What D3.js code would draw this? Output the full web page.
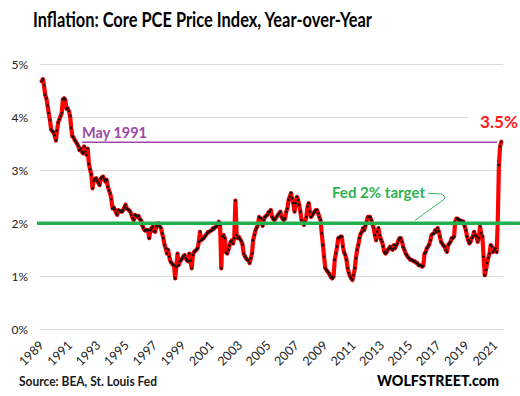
<!DOCTYPE html>
<html><head><meta charset="utf-8">
<script src="https://cdn.jsdelivr.net/npm/d3@7"></script>
<style>
html,body{margin:0;padding:0;background:#fff;}
svg{display:block;font-family:Lato,"Open Sans",sans-serif;}
</style></head>
<body>
<svg id="chart" width="520" height="396"></svg>
<script>
// ---------- DATA ----------
const startYear = 1989, startMonth = 0; // Jan 1989, monthly
const coreYoY = [
 4.68,4.72,4.60,4.42,4.36,4.22,4.08,3.95,3.77,3.74,3.72,3.66, // 1989
 3.56,3.75,3.90,3.96,4.02,4.08,4.34,4.36,4.33,4.16,4.17,4.12, // 1990
 4.03,3.80,3.64,3.62,3.57,3.54,3.50,3.46,3.38,3.41,3.35,3.32, // 1991
 3.45,3.35,3.29,3.41,3.12,3.02,2.92,2.66,2.80,2.83,2.85,2.80, // 1992
 2.76,2.72,2.84,2.87,2.88,2.83,2.79,2.82,2.69,2.62,2.56,2.45, // 1993
 2.28,2.30,2.26,2.20,2.16,2.25,2.24,2.22,2.22,2.25,2.30,2.35, // 1994
 2.28,2.26,2.25,2.22,2.16,2.10,2.06,2.16,2.14,2.12,2.14,2.08, // 1995
 2.06,1.97,1.92,1.87,1.86,1.88,1.87,1.72,1.87,1.91,1.94,1.85, // 1996
 1.84,1.94,1.96,2.00,1.94,1.91,1.81,1.72,1.59,1.53,1.43,1.50, // 1997
 1.37,1.28,1.25,1.22,1.21,0.96,1.18,1.43,1.21,1.28,1.31,1.34, // 1998
 1.38,1.40,1.34,1.30,1.28,1.43,1.30,1.15,1.40,1.46,1.48,1.50, // 1999
 1.53,1.65,1.84,1.68,1.70,1.72,1.75,1.78,1.81,1.84,1.84,1.86, // 2000
 1.87,1.91,1.90,1.93,1.94,1.97,2.03,1.97,1.15,1.75,1.78,1.72, // 2001
 1.45,1.43,1.50,1.58,1.65,1.68,1.62,1.72,2.43,1.78,1.72,1.74, // 2002
 1.70,1.66,1.60,1.43,1.38,1.34,1.31,1.30,1.25,1.34,1.43,1.68, // 2003
 1.78,1.87,1.92,1.97,2.12,2.10,2.09,1.95,2.06,2.12,2.14,2.16, // 2004
 2.21,2.22,2.25,2.12,2.08,2.06,2.09,2.13,2.16,2.19,2.22,2.12, // 2005
 2.08,2.06,2.09,2.22,2.28,2.44,2.50,2.57,2.47,2.38,2.22,2.38, // 2006
 2.50,2.44,2.35,2.22,2.06,2.00,1.97,2.03,2.12,2.31,2.38,2.22, // 2007
 2.12,2.15,2.19,2.22,2.25,2.25,2.19,2.12,2.06,1.81,1.59,1.37, // 2008
 1.15,1.12,1.09,1.06,1.02,0.98,0.96,0.99,1.31,1.43,1.56,1.72, // 2009
 1.73,1.75,1.75,1.56,1.45,1.40,1.31,1.15,1.06,1.00,0.96,0.93, // 2010
 1.02,1.15,1.34,1.50,1.59,1.72,1.80,1.84,1.91,1.87,1.95,2.03, // 2011
 2.12,2.12,2.12,2.06,1.98,1.91,1.78,1.68,1.84,1.91,1.78,1.70, // 2012
 1.65,1.56,1.46,1.43,1.45,1.50,1.53,1.56,1.52,1.50,1.59,1.53, // 2013
 1.58,1.62,1.68,1.72,1.72,1.65,1.55,1.50,1.43,1.40,1.36,1.34, // 2014
 1.31,1.31,1.30,1.28,1.28,1.25,1.25,1.21,1.21,1.20,1.18,1.20, // 2015
 1.43,1.46,1.53,1.56,1.60,1.68,1.78,1.80,1.81,1.87,1.84,1.91, // 2016
 1.85,1.75,1.65,1.62,1.58,1.56,1.50,1.46,1.59,1.62,1.65,1.72, // 2017
 1.72,1.75,2.03,2.09,2.09,2.06,2.06,2.03,2.04,2.03,1.94,1.87, // 2018
 1.75,1.68,1.62,1.65,1.72,1.75,1.84,1.78,1.75,1.65,1.72,1.94, // 2019
 1.81,1.75,1.37,1.02,1.12,1.25,1.35,1.43,1.59,1.56,1.46,1.50, // 2020
 1.53,1.46,2.00,3.10,3.45,3.54                                // 2021
];
const yTicks = [0,1,2,3,4,5];
const yTickLabels = ["0%","1%","2%","3%","4%","5%"];
const xTickYears = [1989,1991,1993,1995,1997,1999,2001,2003,2005,2007,2009,2011,2013,2015,2017,2019,2021];
const fedTarget = 2;
const may1991Level = 3.53;
const titleText = "Inflation: Core PCE Price Index, Year-over-Year";
const sourceText = "Source: BEA, St. Louis Fed";
const brandText = "WOLFSTREET.com";
const latestLabel = "3.5%";
const may1991Label = "May 1991";
const fedLabel = "Fed 2% target";

// ---------- CHART ----------
const svg = d3.select("#chart");
const dates = coreYoY.map((v,i)=> new Date(startYear, startMonth + i, 1));
const series = coreYoY.map((v,i)=>({date:dates[i], value:v}));

const x = d3.scaleTime()
  .domain([new Date(1989,0,1), new Date(2021,5,1)])
  .range([41.7, 501.3]);
const y = d3.scaleLinear().domain([0,5]).range([329.3, 64.3]);

const gridX0 = 40, gridX1 = 503;

// gridlines
svg.append("g").selectAll("line").data(yTicks.filter(d=>d!==fedTarget)).join("line")
  .attr("x1", gridX0).attr("x2", gridX1)
  .attr("y1", d=>Math.round(y(d))+0.5).attr("y2", d=>Math.round(y(d))+0.5)
  .attr("stroke", "#d9d9d9").attr("stroke-width", 1.2);

// y axis labels
const yAxis = d3.axisLeft(y).tickValues(yTicks).tickFormat((d,i)=>yTickLabels[i]).tickSize(0).tickPadding(0);
const yg = svg.append("g").attr("transform","translate(28,0)").call(yAxis);
yg.select(".domain").remove();
yg.selectAll("text").attr("font-size", 12).attr("fill","#222").attr("font-family","Lato, sans-serif");

// x axis labels (rotated)
const xg = svg.append("g");
xg.selectAll("text").data(xTickYears).join("text")
  .attr("transform", d=>`translate(${x(new Date(d,0,1))+3},${346}) rotate(-45)`)
  .attr("text-anchor","end")
  .attr("font-size", 12.5)
  .attr("fill","#222")
  .text(d=>d);

// May 1991 line + label
svg.append("line")
  .attr("x1", 82).attr("x2", 497)
  .attr("y1", y(may1991Level)).attr("y2", y(may1991Level))
  .attr("stroke", "#9c4aa5").attr("stroke-width", 1.4);
svg.append("text").attr("x", 82).attr("y", y(may1991Level)-4.5)
  .attr("font-size", 15).attr("font-weight", "bold").attr("fill", "#9c4aa5")
  .attr("textLength", 65).attr("lengthAdjust","spacingAndGlyphs")
  .text(may1991Label);

// data line
const line = d3.line().x(d=>x(d.date)).y(d=>y(d.value));
svg.append("path").datum(series)
  .attr("d", line).attr("fill","none")
  .attr("stroke","#ff0000").attr("stroke-width",4.2)
  .attr("stroke-linejoin","round").attr("stroke-linecap","round");
svg.append("g").selectAll("circle").data(series).join("circle")
  .attr("cx", d=>x(d.date)).attr("cy", d=>y(d.value)).attr("r", 1.3)
  .attr("fill","#111");

// Fed 2% target line
svg.append("line")
  .attr("x1", 37).attr("x2", 520)
  .attr("y1", y(fedTarget)).attr("y2", y(fedTarget))
  .attr("stroke", "#22b14c").attr("stroke-width", 3.4);

// Fed target label and leader
svg.append("text").attr("x", 332).attr("y", 197.7)
  .attr("font-size", 15).attr("font-weight","bold").attr("fill","#2fb350")
  .attr("textLength", 93).attr("lengthAdjust","spacingAndGlyphs")
  .text(fedLabel);
svg.append("path")
  .attr("d", "M428,193.3 L440,193.8 Q446,195.5 444.5,199 L415,220.5")
  .attr("fill","none").attr("stroke","#22b14c").attr("stroke-width",0.9);

// latest value label with white box
svg.append("rect").attr("x", 468).attr("y", 108).attr("width", 52).attr("height", 25).attr("fill","#fff");
svg.append("text").attr("x", 480).attr("y", 128.3)
  .attr("font-size", 17.5).attr("font-weight","bold").attr("fill","#ff1a1a")
  .attr("textLength", 38).attr("lengthAdjust","spacingAndGlyphs")
  .text(latestLabel);

// title
svg.append("text").attr("x", 33).attr("y", 26.7)
  .attr("font-size", 20).attr("font-weight","bold").attr("fill","#000")
  .attr("textLength", 339).attr("lengthAdjust","spacingAndGlyphs")
  .text(titleText);

// source
svg.append("text").attr("x", 19).attr("y", 385.7)
  .attr("font-size", 12.5).attr("font-weight","bold").attr("fill","#1a1a1a")
  .attr("textLength", 138).attr("lengthAdjust","spacingAndGlyphs")
  .text(sourceText);

// brand
svg.append("text").attr("x", 377).attr("y", 386)
  .attr("font-size", 14.5).attr("font-weight","900").attr("fill","#000")
  .attr("textLength", 122).attr("lengthAdjust","spacingAndGlyphs")
  .text(brandText);
</script>
</body></html>
